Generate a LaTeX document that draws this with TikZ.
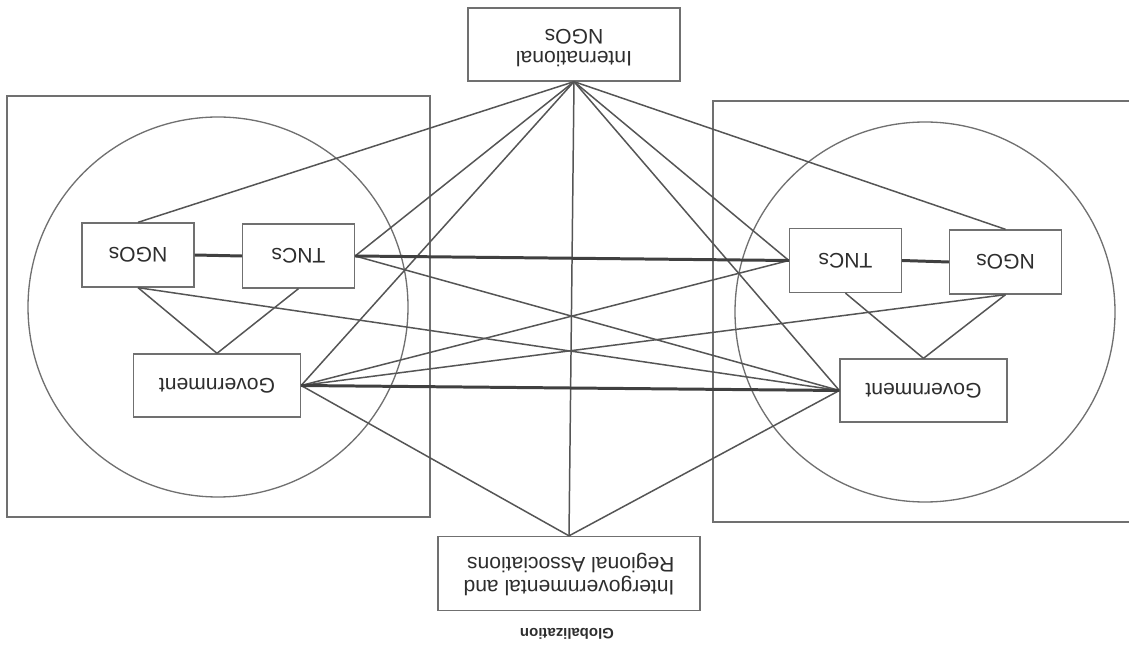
\documentclass[tikz,border=0pt]{standalone}
\usepackage{fontspec}
\setmainfont{Liberation Sans}
\usepackage{graphicx}
\definecolor{boxgray}{HTML}{707070}
\definecolor{linegray}{HTML}{555555}
\definecolor{thickgray}{HTML}{404040}
\definecolor{txtgray}{HTML}{2E2E2E}
\newcommand{\flip}[1]{\rotatebox[origin=c]{180}{#1}}
\begin{document}
\begin{tikzpicture}[x=0.02cm,y=-0.02cm,
  frame/.style={draw=boxgray,line width=0.75pt},
  box/.style={draw=boxgray,line width=0.75pt,fill=white,inner sep=0pt,
    text=txtgray,font=\fontsize{12}{12.5}\selectfont},
  smallbox/.style={box,minimum width=2.24cm,minimum height=1.28cm},
  govbox/.style={box,minimum width=3.34cm,minimum height=1.26cm},
  link/.style={draw=linegray,line width=0.85pt},
  strong/.style={draw=thickgray,line width=1.7pt}]
\path[clip] (0,0) rectangle (1129,648);
\useasboundingbox (0,0) rectangle (1129,648);
\fill[white] (0,0) rectangle (1129,648);

% frames and circles
\draw[frame] (7,96) rectangle (430,517);
\draw[frame] (713,101) rectangle (1150,522);
\draw[frame] (218,307) circle[radius=190];
\draw[frame] (925,312) circle[radius=190];

% nodes
\node[box,minimum width=4.24cm,minimum height=1.46cm] (ino) at (574,44.5)
  {\flip{\begin{tabular}{@{}c@{}}International\\NGOs\end{tabular}}};
\node[box,minimum width=5.24cm,minimum height=1.48cm,font=\fontsize{12}{13}\selectfont] (iga) at (569,573.5)
  {\flip{\begin{tabular}{@{}l@{}}Intergovernmental and\\Regional Associations\end{tabular}}};
\node[text=txtgray,font=\fontsize{8.5}{10}\selectfont\bfseries] (glob) at (567,634) {\flip{Globalization}};

\node[smallbox] (lngo) at (138,255) {\flip{NGOs}};
\node[smallbox] (ltnc) at (298.5,256) {\flip{TNCs}};
\node[govbox] (lgov) at (217,385.5) {\flip{Government}};
\node[smallbox] (rtnc) at (845.5,260.5) {\flip{TNCs}};
\node[smallbox] (rngo) at (1005.5,262) {\flip{NGOs}};
\node[govbox] (rgov) at (923.5,390.5) {\flip{Government}};

% thin connectors
\path[link] (ino.south) -- (lngo.north);
\path[link] (ino.south) -- (ltnc.east);
\path[link] (ino.south) -- (lgov.east);
\path[link] (ino.south) -- (iga.north);
\path[link] (ino.south) -- (rgov.west);
\path[link] (ino.south) -- (rtnc.west);
\path[link] (ino.south) -- (rngo.north);
\path[link] (iga.north) -- (lgov.east);
\path[link] (iga.north) -- (rgov.west);
\path[link] (ltnc.east) -- (rgov.west);
\path[link] (lngo.south) -- (rgov.west);
\path[link] (lgov.east) -- (rtnc.west);
\path[link] (lgov.east) -- (rngo.south);
\path[link] (lngo.south) -- (lgov.north);
\path[link] (ltnc.south) -- (lgov.north);
\path[link] (rtnc.south) -- (rgov.north);
\path[link] (rngo.south) -- (rgov.north);

% thick connectors
\path[strong] (lngo.east) -- (ltnc.west);
\path[strong] (rtnc.east) -- (rngo.west);
\path[strong] (ltnc.east) -- (rtnc.west);
\path[strong] (lgov.east) -- (rgov.west);
\end{tikzpicture}
\end{document}
